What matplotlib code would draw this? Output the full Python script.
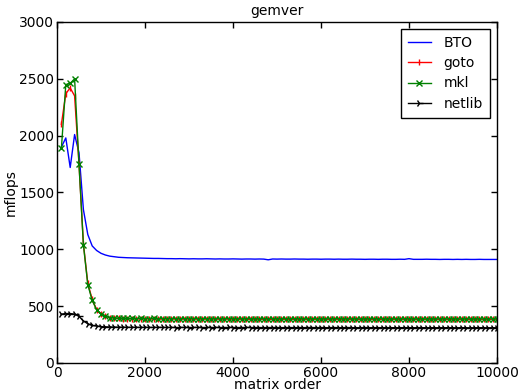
import matplotlib
matplotlib.use("Agg")
import matplotlib.pyplot as plt

order = list(range(100, 10001, 100))

bto = [1900, 1980, 1720, 2010, 1850, 1350, 1130, 1030, 990, 965, 950, 940, 935, 930,
       928, 926, 925, 924, 923, 922, 921, 920, 920, 919,
       918, 918, 917, 918, 917, 916, 917, 916, 916, 917,
       916, 915, 916, 915, 915, 916, 915, 914, 915, 915,
       914, 915, 914, 908, 915, 914, 915, 914, 914, 915,
       914, 914, 913, 914, 914, 913, 914, 914, 913, 914,
       913, 913, 914, 913, 913, 912, 913, 913, 912, 913,
       913, 912, 912, 913, 912, 918, 912, 912, 912, 913,
       912, 912, 911, 912, 912, 911, 912, 911, 912, 911,
       911, 912, 911, 911, 911, 911]

goto = [2100, 2370, 2420, 2350, 1750, 1050, 700, 560, 470, 430, 410, 400, 395, 392,
        390, 389, 388, 388, 387, 388, 387, 386, 387, 386,
        386, 387, 386, 385, 386, 386, 385, 386, 385, 386,
        385, 386, 385, 385, 386, 385, 384, 385, 385, 384,
        385, 384, 385, 384, 384, 385, 384, 385, 384, 384,
        385, 384, 384, 385, 384, 384, 383, 384, 384, 385,
        384, 383, 384, 384, 383, 384, 384, 383, 384, 383,
        384, 383, 384, 383, 384, 383, 383, 384, 383, 384,
        383, 384, 383, 383, 384, 383, 383, 384, 383, 383,
        384, 383, 383, 383, 384, 383]

mkl = [1890, 2450, 2460, 2500, 1750, 1040, 690, 550, 470, 430, 410, 400, 396, 394,
       393, 392, 392, 391, 392, 391, 391, 392, 391, 390,
       391, 390, 391, 390, 390, 391, 390, 391, 390, 390,
       391, 390, 390, 389, 390, 391, 390, 390, 389, 390,
       390, 389, 390, 390, 389, 390, 389, 390, 390, 389,
       390, 389, 389, 390, 389, 390, 389, 389, 390, 389,
       389, 390, 389, 389, 388, 389, 389, 390, 389, 389,
       388, 389, 389, 388, 389, 389, 388, 389, 389, 388,
       389, 388, 389, 389, 388, 389, 388, 389, 388, 389,
       388, 389, 388, 388, 389, 388]

netlib = [430, 435, 435, 430, 410, 370, 345, 330, 325, 320, 318, 317, 316, 315,
          315, 314, 314, 314, 313, 314, 313, 313, 314, 313,
          313, 313, 312, 313, 313, 312, 313, 313, 312, 313,
          312, 313, 312, 312, 313, 312, 312, 312, 313, 312,
          312, 312, 311, 312, 312, 312, 311, 312, 312, 311,
          312, 311, 312, 312, 311, 312, 311, 311, 312, 311,
          311, 312, 311, 311, 311, 312, 311, 311, 311, 311,
          311, 311, 310, 311, 311, 311, 310, 311, 311, 310,
          311, 310, 311, 310, 311, 310, 310, 311, 310, 310,
          310, 311, 310, 310, 310, 310]

plt.rcParams['font.family'] = 'DejaVu Sans'
plt.rcParams['xtick.direction'] = 'in'
plt.rcParams['ytick.direction'] = 'in'

fig = plt.figure(figsize=(5.18, 3.92), dpi=100)
ax = fig.add_axes([57/518, 1 - 363/392, 440/518, 341/392])

ax.plot(order, bto, color='b', lw=1, label='BTO')
ax.plot(order, goto, color='r', lw=1, marker='|', ms=5, mew=1, label='goto')
ax.plot(order, mkl, color='g', lw=1, marker='x', ms=5, mew=1, label='mkl')
ax.plot(order, netlib, color='k', lw=1, marker='4', ms=6, mew=1, label='netlib')

ax.set_xlim(0, 10000)
ax.set_ylim(0, 3000)
ax.set_xticks([0, 2000, 4000, 6000, 8000, 10000])
ax.set_yticks([0, 500, 1000, 1500, 2000, 2500, 3000])
ax.tick_params(axis='both', which='both', top=True, right=True, labelsize=10,
               length=4, width=1, pad=2)
for s in ax.spines.values():
    s.set_linewidth(1)

ax.set_title('gemver', fontsize=10, pad=5)
ax.set_xlabel('matrix order', fontsize=10, labelpad=-1)
ax.set_ylabel('mflops', fontsize=10, labelpad=1)

leg = ax.legend(loc='upper right', fontsize=10, fancybox=False, framealpha=1,
                edgecolor='k', handlelength=1.7, handletextpad=0.9,
                borderpad=0.5, labelspacing=0.45)
leg.get_frame().set_linewidth(1)

fig.savefig('out.png', dpi=100)
